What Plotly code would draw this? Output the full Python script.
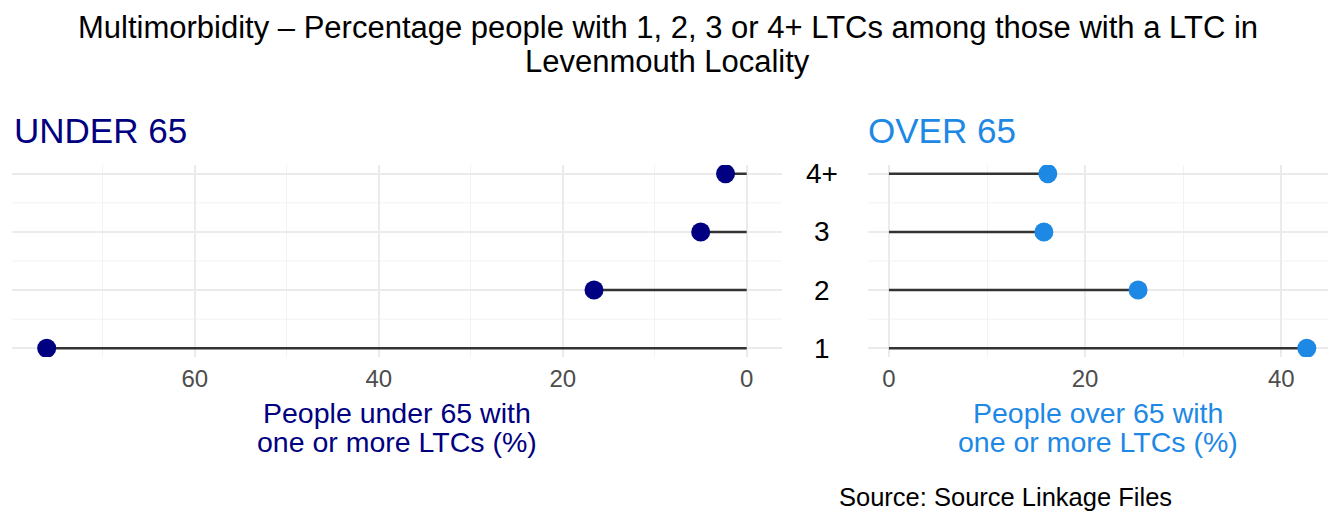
import plotly.graph_objects as go

# Number of long-term conditions (LTCs) per person
ltc_groups = ["1", "2", "3", "4+"]
# Percentage of people with one or more LTCs, by number of LTCs
under65_pct = [76.1, 16.6, 5.0, 2.3]
over65_pct = [42.6, 25.4, 15.8, 16.2]

title_lines = [
    "Multimorbidity \u2013 Percentage people with 1, 2, 3 or 4+ LTCs among those with a LTC in",
    "Levenmouth Locality",
]
under_label = "UNDER 65"
over_label = "OVER 65"
under_axis_title = ["People under 65 with", "one or more LTCs (%)"]
over_axis_title = ["People over 65 with", "one or more LTCs (%)"]
caption = "Source: Source Linkage Files"

NAVY = "#000080"
BLUE = "#1E88E5"
STEM = "#333333"
GRID = "#EBEBEB"
GRID_MINOR = "#F2F2F2"
FONT = "Liberation Sans, Arial, sans-serif"

W, H = 1335, 511


def px_x(p):
    return p / W


def px_y(p):
    return 1 - p / H


def stem_xy(vals):
    xs, ys = [], []
    for g, v in zip(ltc_groups, vals):
        xs += [0, v, None]
        ys += [g, g, None]
    return xs, ys


fig = go.Figure()

for vals, color, xa, ya in [
    (under65_pct, NAVY, "x", "y"),
    (over65_pct, BLUE, "x2", "y2"),
]:
    sx, sy = stem_xy(vals)
    fig.add_trace(go.Scatter(
        x=sx, y=sy, mode="lines", xaxis=xa, yaxis=ya,
        line=dict(color=STEM, width=2.5), hoverinfo="skip", showlegend=False,
    ))
    fig.add_trace(go.Scatter(
        x=vals, y=ltc_groups, mode="markers", xaxis=xa, yaxis=ya,
        marker=dict(color=color, size=19, line=dict(width=0)), showlegend=False,
    ))

u_max = max(under65_pct)
o_max = max(over65_pct)

y_dom = [px_y(357), px_y(165)]
n = len(ltc_groups)

common_x = dict(
    showgrid=True, gridcolor=GRID, gridwidth=2,
    zeroline=False, showline=False, ticks="",
    tick0=0, dtick=20,
    minor=dict(dtick=10, showgrid=True, gridcolor=GRID_MINOR, gridwidth=1),
    tickfont=dict(family=FONT, size=24, color="#4D4D4D"),
    ticklabelstandoff=5,
    fixedrange=True,
)
common_y = dict(
    type="category", categoryorder="array", categoryarray=ltc_groups,
    range=[-0.15, n - 1 + 0.15], domain=y_dom,
    showgrid=True, gridcolor=GRID, gridwidth=2,
    zeroline=False, showline=False, ticks="", showticklabels=False,
    fixedrange=True,
)

fig.update_layout(
    width=W, height=H,
    margin=dict(l=0, r=0, t=0, b=0),
    paper_bgcolor="white", plot_bgcolor="white",
    font=dict(family=FONT, color="black"),
    xaxis=dict(common_x, domain=[px_x(11.7), px_x(781.7)],
               range=[u_max * 1.05, -u_max * 0.05], anchor="y"),
    yaxis=dict(common_y, anchor="x"),
    xaxis2=dict(common_x, domain=[px_x(868), px_x(1327.7)],
                range=[-o_max * 0.05, o_max * 1.05], anchor="y2"),
    yaxis2=dict(common_y, anchor="x2"),
)

# minor horizontal gridlines between LTC groups
shapes = []
for yref, xref in [("y", "x domain"), ("y2", "x2 domain")]:
    for i in range(n - 1):
        shapes.append(dict(
            type="line", xref=xref, yref=yref, x0=0, x1=1,
            y0=i + 0.5, y1=i + 0.5, layer="below",
            line=dict(color=GRID_MINOR, width=1),
        ))
fig.update_layout(shapes=shapes)

ann = []
# title
for text, yc in zip(title_lines, [27.5, 61.5]):
    ann.append(dict(text=text, x=0.5, y=px_y(yc), xref="paper", yref="paper",
                    xanchor="center", yanchor="middle", showarrow=False,
                    font=dict(family=FONT, size=31, color="black")))
# panel headings
ann.append(dict(text=under_label, x=px_x(12), y=px_y(130.8), xref="paper", yref="paper",
                xanchor="left", yanchor="middle", showarrow=False,
                font=dict(family=FONT, size=35, color=NAVY)))
ann.append(dict(text=over_label, x=px_x(866), y=px_y(130.8), xref="paper", yref="paper",
                xanchor="left", yanchor="middle", showarrow=False,
                font=dict(family=FONT, size=35, color=BLUE)))
# axis titles
for lines, xc, color in [(under_axis_title, 396.7, NAVY), (over_axis_title, 1097.8, BLUE)]:
    for text, yc in zip(lines, [412.8, 442.3]):
        ann.append(dict(text=text, x=px_x(xc), y=px_y(yc), xref="paper", yref="paper",
                        xanchor="center", yanchor="middle", showarrow=False,
                        font=dict(family=FONT, size=28.5, color=color)))
# shared LTC group labels between panels (positioned by category index)
for i, g in enumerate(ltc_groups):
    ann.append(dict(text=g, x=px_x(822), y=i, xref="paper", yref="y2",
                    xanchor="center", yanchor="middle", showarrow=False,
                    font=dict(family=FONT, size=28, color="black")))
# caption
ann.append(dict(text=caption, x=px_x(836.7), y=px_y(496.8), xref="paper", yref="paper",
                xanchor="left", yanchor="middle", showarrow=False,
                font=dict(family=FONT, size=25.5, color="black")))
fig.update_layout(annotations=ann)

fig.write_html("out.html")
